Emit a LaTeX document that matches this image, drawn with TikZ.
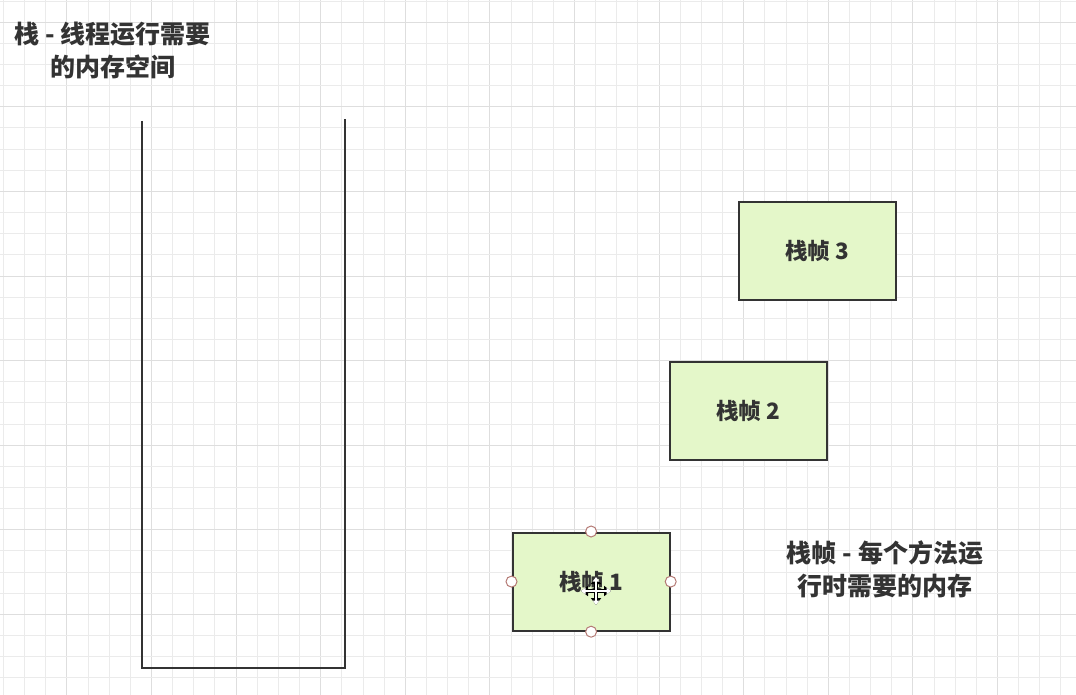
\documentclass[tikz,border=0pt]{standalone}
\usepackage{fontspec}
\newfontfamily\cjk{Noto Sans CJK SC}
\usetikzlibrary{arrows.meta}
\definecolor{gridminor}{HTML}{EBEBEB}
\definecolor{gridmajor}{HTML}{DEDEDE}
\definecolor{ink}{HTML}{333333}
\definecolor{framefill}{HTML}{E4F7C9}
\definecolor{handle}{HTML}{B57A75}
\tikzset{
  gridminorline/.style={draw=gridminor, line width=1pt},
  gridmajorline/.style={draw=gridmajor, line width=1pt},
  stackwall/.style={draw=ink, line width=2.4pt},
  framebox/.style={draw=ink, line width=2.2pt, fill=framefill, minimum width=157pt, minimum height=98pt, inner sep=0pt, anchor=north west, font=\cjk\bfseries\fontsize{22.5}{26}\selectfont, text=ink},
  caption/.style={align=center, font=\cjk\bfseries\fontsize{25}{33}\selectfont, text=ink, inner sep=0pt},
  selhandle/.style={circle, draw=handle, fill=white, line width=1pt, minimum size=11pt, inner sep=0pt},
  cursorout/.style={draw=black, line width=4pt, -{Triangle[length=7pt,width=10pt]}},
  cursorin/.style={draw=white, line width=1.6pt, -{Triangle[length=4.5pt,width=6.5pt]}},
}
\begin{document}
\begin{tikzpicture}[x=1pt,y=-1pt]
\useasboundingbox (0,0) rectangle (1076,695);
\fill[white] (0,0) rectangle (1076,695);
% grid
\foreach \i in {0,...,50} {
  \pgfmathsetmacro{\gx}{round(3+\i*21.15)+0.5}
  \pgfmathtruncatemacro{\gm}{mod(\i,4)}
  \ifnum\gm=3 \draw[gridmajorline] (\gx,0) -- (\gx,695); \else \draw[gridminorline] (\gx,0) -- (\gx,695); \fi
}
\foreach \i in {0,...,32} {
  \pgfmathsetmacro{\gy}{round(0.6+\i*21.15)+0.5}
  \pgfmathtruncatemacro{\gm}{mod(\i,4)}
  \ifnum\gm=1 \draw[gridmajorline] (0,\gy) -- (1076,\gy); \else \draw[gridminorline] (0,\gy) -- (1076,\gy); \fi
}
% stack container
\coordinate (sTL) at (142,121);
\coordinate (sBL) at (142,668);
\coordinate (sBR) at (345,668);
\coordinate (sTR) at (345,119);
\draw[stackwall, line join=miter] (sTL) -- (sBL) -- (sBR) -- (sTR);
% captions
\node[caption] (stacklabel) at (112.5,50) {栈 - 线程运行需要\\的内存空间};
\node[caption] (framelabel) at (885,569) {栈帧 - 每个方法运\\行时需要的内存};
% frames
\node[framebox] (f3) at (737.5,201) {栈帧 3};
\node[framebox] (f2) at (668.5,361) {栈帧 2};
\node[framebox] (f1) at (511.5,531.5) {栈帧 1};
% selection handles
\node[selhandle] (hN) at (f1.north) {};
\node[selhandle] (hS) at (f1.south) {};
\node[selhandle] (hW) at (f1.west) {};
\node[selhandle] (hE) at (f1.east) {};
% move cursor
\coordinate (cC) at (596,591);
\coordinate (cN) at (596,577);
\coordinate (cS) at (596,605);
\coordinate (cW) at (581,591);
\coordinate (cE) at (611,591);
\foreach \t in {cN,cS,cW,cE} { \draw[cursorout] (cC) -- (\t); }
\foreach \t in {cN,cS,cW,cE} { \draw[cursorin, shorten <=-1pt] (cC) -- (\t); }
\end{tikzpicture}
\end{document}
